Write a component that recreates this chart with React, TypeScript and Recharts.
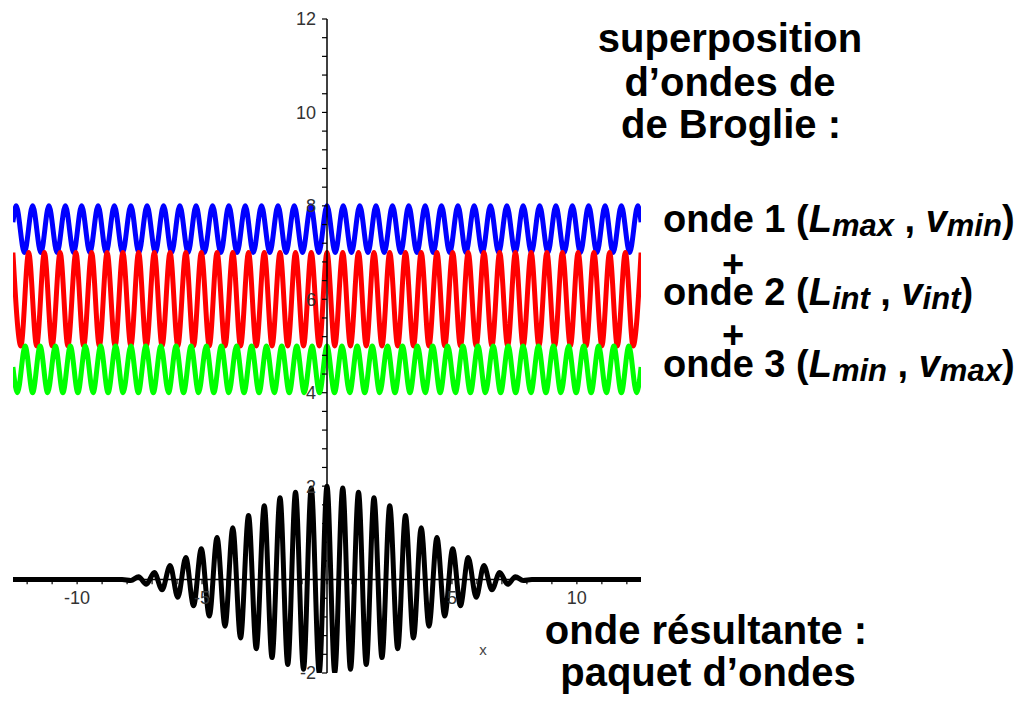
import { LineChart, Line, XAxis, YAxis, ReferenceLine, ReferenceDot } from 'recharts';

// onde 1 (bleu) : extremums
const blueX = [
  -12.57,
  -12.44, -12.11, -11.78, -11.45, -11.13, -10.8, -10.47, -10.14, -9.82, -9.49,
  -9.16, -8.84, -8.51, -8.18, -7.85, -7.53, -7.2, -6.87, -6.54, -6.22,
  -5.89, -5.56, -5.24, -4.91, -4.58, -4.25, -3.93, -3.6, -3.27, -2.95,
  -2.62, -2.29, -1.96, -1.64, -1.31, -0.98, -0.65, -0.33,
  0,
  0.33, 0.65, 0.98, 1.31, 1.64, 1.96, 2.29, 2.62, 2.95, 3.27,
  3.6, 3.93, 4.25, 4.58, 4.91, 5.24, 5.56, 5.89, 6.22, 6.54,
  6.87, 7.2, 7.53, 7.85, 8.18, 8.51, 8.84, 9.16, 9.49, 9.82,
  10.14, 10.47, 10.8, 11.13, 11.45, 11.78, 12.11, 12.44,
  12.57,
];
const blueY = [
  7.65,
  8, 7, 8, 7, 8, 7, 8, 7, 8, 7,
  8, 7, 8, 7, 8, 7, 8, 7, 8, 7,
  8, 7, 8, 7, 8, 7, 8, 7, 8, 7,
  8, 7, 8, 7, 8, 7, 8, 7,
  8,
  7, 8, 7, 8, 7, 8, 7, 8, 7, 8,
  7, 8, 7, 8, 7, 8, 7, 8, 7, 8,
  7, 8, 7, 8, 7, 8, 7, 8, 7, 8,
  7, 8, 7, 8, 7, 8, 7, 8,
  7.65,
];

// onde 2 (rouge)
const redX = [
  -12.57, -12.25, -11.94, -11.62, -11.31, -11.0, -10.68, -10.37, -10.05, -9.74,
  -9.42, -9.11, -8.8, -8.48, -8.17, -7.85, -7.54, -7.23, -6.91, -6.6,
  -6.28, -5.97, -5.65, -5.34, -5.03, -4.71, -4.4, -4.08, -3.77, -3.46,
  -3.14, -2.83, -2.51, -2.2, -1.88, -1.57, -1.26, -0.94, -0.63, -0.31,
  0,
  0.31, 0.63, 0.94, 1.26, 1.57, 1.88, 2.2, 2.51, 2.83, 3.14,
  3.46, 3.77, 4.08, 4.4, 4.71, 5.03, 5.34, 5.65, 5.97, 6.28,
  6.6, 6.91, 7.23, 7.54, 7.85, 8.17, 8.48, 8.8, 9.11, 9.42,
  9.74, 10.05, 10.37, 10.68, 11.0, 11.31, 11.62, 11.94, 12.25, 12.57,
];
const redY = [
  7, 5, 7, 5, 7, 5, 7, 5, 7, 5,
  7, 5, 7, 5, 7, 5, 7, 5, 7, 5,
  7, 5, 7, 5, 7, 5, 7, 5, 7, 5,
  7, 5, 7, 5, 7, 5, 7, 5, 7, 5,
  7,
  5, 7, 5, 7, 5, 7, 5, 7, 5, 7,
  5, 7, 5, 7, 5, 7, 5, 7, 5, 7,
  5, 7, 5, 7, 5, 7, 5, 7, 5, 7,
  5, 7, 5, 7, 5, 7, 5, 7, 5, 7,
];

// onde 3 (vert)
const greenX = [
  -12.57,
  -12.39, -12.08, -11.78, -11.48, -11.18, -10.87, -10.57, -10.27, -9.97, -9.67,
  -9.36, -9.06, -8.76, -8.46, -8.16, -7.85, -7.55, -7.25, -6.95, -6.65,
  -6.34, -6.04, -5.74, -5.44, -5.14, -4.83, -4.53, -4.23, -3.93, -3.62,
  -3.32, -3.02, -2.72, -2.42, -2.11, -1.81, -1.51, -1.21, -0.91, -0.6,
  -0.3,
  0,
  0.3,
  0.6, 0.91, 1.21, 1.51, 1.81, 2.11, 2.42, 2.72, 3.02, 3.32,
  3.62, 3.93, 4.23, 4.53, 4.83, 5.14, 5.44, 5.74, 6.04, 6.34,
  6.65, 6.95, 7.25, 7.55, 7.85, 8.16, 8.46, 8.76, 9.06, 9.36,
  9.67, 9.97, 10.27, 10.57, 10.87, 11.18, 11.48, 11.78, 12.08, 12.39,
  12.57,
];
const greenY = [
  4.55,
  4, 5, 4, 5, 4, 5, 4, 5, 4, 5,
  4, 5, 4, 5, 4, 5, 4, 5, 4, 5,
  4, 5, 4, 5, 4, 5, 4, 5, 4, 5,
  4, 5, 4, 5, 4, 5, 4, 5, 4, 5,
  4,
  5,
  4,
  5, 4, 5, 4, 5, 4, 5, 4, 5, 4,
  5, 4, 5, 4, 5, 4, 5, 4, 5, 4,
  5, 4, 5, 4, 5, 4, 5, 4, 5, 4,
  5, 4, 5, 4, 5, 4, 5, 4, 5, 4,
  4.55,
];

// onde résultante (noir)
const packetX = [
  -12.57, -8.2,
  -7.85, -7.54, -7.23, -6.91, -6.6, -6.28, -5.97, -5.65, -5.34, -5.03,
  -4.71, -4.4, -4.08, -3.77, -3.46, -3.14, -2.83, -2.51, -2.2, -1.88,
  -1.57, -1.26, -0.94, -0.63, -0.31,
  0,
  0.31, 0.63, 0.94, 1.26, 1.57, 1.88, 2.2, 2.51, 2.83, 3.14,
  3.46, 3.77, 4.08, 4.4, 4.71, 5.03, 5.34, 5.65, 5.97, 6.28,
  6.6, 6.91, 7.23, 7.54, 7.85,
  8.2, 12.57,
];
const packetY = [
  0, 0,
  -0.02, 0.06, -0.1, 0.15, -0.22, 0.3, -0.38, 0.47, -0.56, 0.66,
  -0.78, 0.9, -1.0, 1.11, -1.25, 1.37, -1.48, 1.58, -1.67, 1.75,
  -1.82, 1.87, -1.92, 1.96, -1.99,
  2.0,
  -1.99, 1.96, -1.92, 1.87, -1.82, 1.75, -1.67, 1.58, -1.48, 1.37,
  -1.25, 1.11, -1.0, 0.9, -0.78, 0.66, -0.56, 0.47, -0.38, 0.3,
  -0.22, 0.15, -0.1, 0.06, -0.02,
  0, 0,
];

const xTicks = [-12, -11, -10, -9, -8, -7, -6, -5, -4, -3, -2, -1, 0, 1, 2, 3, 4, 5, 6, 7, 8, 9, 10, 11, 12];
const xTickLabels = [-10, -5, 5, 10];
const yTicks = [
  -2, -1.6, -1.2, -0.8, -0.4, 0, 0.4, 0.8, 1.2, 1.6, 2, 2.4, 2.8, 3.2, 3.6, 4, 4.4, 4.8,
  5.2, 5.6, 6, 6.4, 6.8, 7.2, 7.6, 8, 8.4, 8.8, 9.2, 9.6, 10, 10.4, 10.8, 11.2, 11.6, 12,
];
const yTickLabels = [-2, 2, 4, 6, 8, 10, 12];

const toPoints = (xs: number[], ys: number[]) => xs.map((x, i) => ({ x, y: ys[i] }));

const FONT = "'Liberation Sans', Arial, sans-serif";
const tickFont = { fill: '#333', fontSize: 18, fontFamily: FONT };

function Waves(props: { n: string; a: string; b: string }) {
  return (
    <>
      {`onde ${props.n} (`}
      <tspan fontStyle="italic">L</tspan>
      <tspan fontStyle="italic" fontSize={31} dy={4}>{props.a}</tspan>
      <tspan dy={-4}>{' , '}</tspan>
      <tspan fontStyle="italic">v</tspan>
      <tspan fontStyle="italic" fontSize={31} dy={4}>{props.b}</tspan>
      <tspan dy={-4}>)</tspan>
    </>
  );
}

export default function App() {
  return (
    <div style={{ position: 'absolute', left: 0, top: 0, width: 1024, height: 709, background: '#fff' }}>
      <LineChart width={1024} height={709} margin={{ top: 19, right: 383, bottom: 36, left: 13 }}>
        <XAxis type="number" dataKey="x" domain={[-12.566, 12.566]} allowDataOverflow hide />
        <YAxis type="number" dataKey="y" domain={[-2, 12]} allowDataOverflow hide />

        {xTickLabels.map((v) => (
          <ReferenceDot
            key={`xl${v}`}
            x={v}
            y={0}
            r={0}
            fill="none"
            stroke="none"
            label={{ value: String(v), position: 'bottom', offset: 12, ...tickFont }}
          />
        ))}

        <Line data={toPoints(blueX, blueY)} dataKey="y" type="monotone" stroke="#0000ff" strokeWidth={5} dot={false} isAnimationActive={false} />
        <Line data={toPoints(redX, redY)} dataKey="y" type="monotone" stroke="#ff0000" strokeWidth={5} dot={false} isAnimationActive={false} />
        <Line data={toPoints(greenX, greenY)} dataKey="y" type="monotone" stroke="#00ff00" strokeWidth={5} dot={false} isAnimationActive={false} />
        <Line data={toPoints(packetX, packetY)} dataKey="y" type="monotone" stroke="#000" strokeWidth={5} dot={false} isAnimationActive={false} />

        <ReferenceLine y={0} stroke="#000" strokeWidth={1.5} />
        <ReferenceLine x={0} stroke="#000" strokeWidth={1.5} />
        {xTicks.map((t) => (
          <ReferenceLine key={`xt${t}`} segment={[{ x: t, y: 0 }, { x: t, y: -0.1 }]} stroke="#000" strokeWidth={1.2} />
        ))}
        {yTicks.map((t) => (
          <ReferenceLine key={`yt${t}`} segment={[{ x: -0.2, y: t }, { x: 0, y: t }]} stroke="#000" strokeWidth={1.2} />
        ))}
        {yTickLabels.map((v) => (
          <ReferenceDot
            key={`yl${v}`}
            x={0}
            y={v}
            r={0}
            fill="none"
            stroke="none"
            label={{ value: String(v), position: 'left', offset: 11, ...tickFont }}
          />
        ))}
      </LineChart>

      <svg
        width={1024}
        height={709}
        style={{ position: 'absolute', left: 0, top: 0, pointerEvents: 'none' }}
        fontFamily={FONT}
      >
        <text x={483} y={655} fontSize={15} fill="#444" textAnchor="middle">x</text>
        <g fontWeight="bold" fill="#000">
          <g fontSize={40}>
            <text x={730} y={52} textAnchor="middle">superposition</text>
            <text x={730} y={96} textAnchor="middle">d’ondes de</text>
            <text x={731} y={138} textAnchor="middle">de Broglie :</text>
          </g>

          <g fontSize={38}>
            <text x={663} y={232}><Waves n="1" a="max" b="min" /></text>
            <text x={733} y={277} textAnchor="middle">+</text>
            <text x={663} y={305}><Waves n="2" a="int" b="int" /></text>
            <text x={733} y={348} textAnchor="middle">+</text>
            <text x={663} y={377}><Waves n="3" a="min" b="max" /></text>
          </g>

          <g fontSize={40}>
            <text x={706} y={644} textAnchor="middle">onde résultante :</text>
            <text x={708} y={686} textAnchor="middle">paquet d’ondes</text>
          </g>
        </g>
      </svg>
    </div>
  );
}
